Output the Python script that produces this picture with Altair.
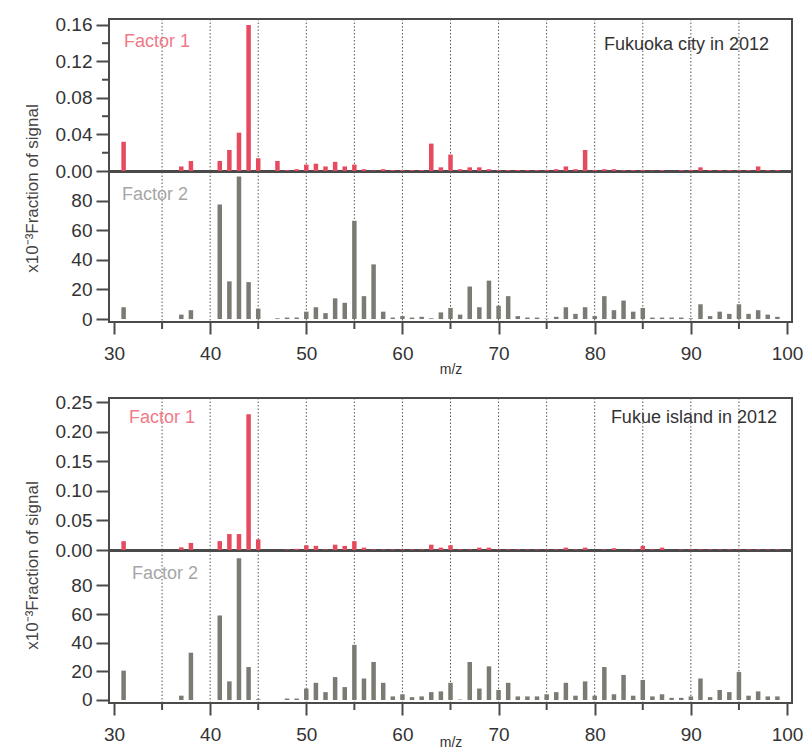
import altair as alt
import pandas as pd

# ---------------- data ----------------
MZ = list(range(31, 100))

fukuoka_f1 = [0.032, 0, 0, 0, 0, 0, 0.005, 0.011, 0, 0,
              0.011, 0.023, 0.042, 0.160, 0.014, 0, 0.011, 0.001, 0.002, 0.007,
              0.008, 0.005, 0.010, 0.005, 0.007, 0.002, 0.0005, 0.002, 0.001, 0.001,
              0.001, 0.001, 0.030, 0.004, 0.018, 0.002, 0.004, 0.004, 0.002, 0.001,
              0.001, 0.001, 0.001, 0.001, 0.001, 0.002, 0.005, 0.002, 0.023, 0.001,
              0.002, 0.002, 0.001, 0.001, 0.001, 0.0005, 0.001, 0, 0.001, 0.001,
              0.004, 0.001, 0.001, 0.001, 0.001, 0.001, 0.005, 0.001, 0.001]

fukuoka_f2 = [8, 0, 0, 0, 0, 0, 3, 6, 0, 0,
              77.5, 25.5, 96.5, 25, 7, 0, 0.5, 1, 1, 5,
              8, 4, 14, 11, 66.5, 15.5, 37, 5, 1, 2,
              1, 1.5, 0.5, 4.5, 7.5, 3, 22, 8, 26, 9,
              15.5, 2, 1, 1, 0.3, 1.5, 8, 3.5, 8, 2,
              15.5, 6, 12.5, 5, 7.5, 1, 1, 1, 1, 0.5,
              10, 2, 5, 3.5, 10, 3.5, 6, 3, 1.5]

fukue_f1 = [0.015, 0, 0, 0, 0, 0, 0.0045, 0.012, 0, 0,
            0.015, 0.027, 0.027, 0.230, 0.018, 0, 0, 0.001, 0.002, 0.008,
            0.007, 0.001, 0.009, 0.007, 0.015, 0.004, 0.001, 0.001, 0.001, 0.001,
            0.001, 0.001, 0.009, 0.004, 0.008, 0.001, 0.001, 0.004, 0.004, 0.001,
            0.001, 0.001, 0.001, 0.001, 0.001, 0.001, 0.004, 0.001, 0.004, 0,
            0.001, 0.003, 0, 0.001, 0.007, 0.001, 0.004, 0, 0.001, 0.001,
            0.001, 0.001, 0.001, 0.001, 0.001, 0.001, 0.001, 0.001, 0.001]

fukue_f2 = [20.5, 0, 0, 0, 0, 0, 3, 33, 0, 0,
            59, 13, 99, 23, 0.5, 0, 0, 1, 1, 8,
            12, 5.5, 16, 9, 38.5, 15, 26.5, 12, 2.5, 4,
            2, 2.5, 5.5, 6, 12, 0.3, 26.5, 8, 23.5, 7,
            12, 2.5, 2.5, 2.5, 4, 5.5, 12, 3, 13, 3,
            23, 4, 17.5, 3, 14, 2.5, 4, 1.5, 1.5, 2.5,
            15, 2, 7, 5.5, 19.5, 3, 6, 2.5, 2.5]

GRID_X = [35, 40, 45, 50, 55, 60, 65, 70, 75, 80, 85, 90, 95]
MAJOR_X = [30, 40, 50, 60, 70, 80, 90, 100]
MINOR_X = [35, 45, 55, 65, 75, 85, 95]
TOP_F1_TICKS = [0, 0.04, 0.08, 0.12, 0.16]
TOP_F1_MINOR = [0.02, 0.06, 0.10, 0.14]
BOT_F1_TICKS = [0, 0.05, 0.10, 0.15, 0.20, 0.25]
F2_TICKS = [0, 20, 40, 60, 80]

# ---------------- style ----------------
FONT = "Liberation Sans"
AX = "#4a4a4a"
LBL = "#333333"
RED = "#e64a5f"
GRAY = "#7a7c74"
W = 683
YTITLE = "x10\u207b\u00b3Fraction of signal"

xscale = alt.Scale(domain=[30, 100], nice=False, zero=False)


def xenc(show_axis, title_y=47):
    if show_axis:
        ax = alt.Axis(values=MAJOR_X, tickSize=12, tickWidth=2, tickColor=AX,
                      domain=False, grid=False, labelFont=FONT, labelFontSize=19,
                      labelColor=LBL, labelPadding=10, title="m/z", titleFont=FONT,
                      titleFontSize=14, titleFontWeight="normal", titleColor=LBL,
                      titleBaseline="middle", titleY=title_y)
        return alt.X("mz:Q", scale=xscale, axis=ax)
    return alt.X("mz:Q", scale=xscale, axis=None)


def panel(values, color, ydomain, yticks, yfmt, height, label, label_color,
          label_pos, site=None, site_pos=None, ytitle=None, title_y=None,
          minor_y=None, show_x=False, xtitle_y=47):
    df = pd.DataFrame({"mz": MZ, "v": values})
    common = dict(values=yticks, format=yfmt, tickSize=13, tickWidth=2,
                  tickColor=AX, domain=False, grid=False, labelFont=FONT,
                  labelFontSize=19, labelColor=LBL, labelPadding=4)
    if ytitle:
        yax = alt.Axis(title=ytitle, titleFont=FONT, titleFontSize=17,
                       titleFontWeight="normal", titleColor="#444444",
                       titleAngle=270, titleAlign="center", titleBaseline="middle",
                       titleX=-77, titleY=title_y, **common)
    else:
        yax = alt.Axis(title=None, **common)
    yenc = alt.Y("v:Q", scale=alt.Scale(domain=ydomain, nice=False, zero=False),
                 axis=yax)
    X = xenc(show_x, xtitle_y)

    grid = alt.Chart(pd.DataFrame({"mz": GRID_X})).mark_rule(
        color="#555555", strokeDash=[1.5, 2], strokeWidth=1
    ).encode(x=X)

    bars = alt.Chart(df).mark_bar(size=4.5, color=color).encode(x=X, y=yenc)

    txt = alt.Chart(pd.DataFrame({"t": [label]})).mark_text(
        align="left", baseline="middle", font=FONT, fontSize=18, color=label_color
    ).encode(text="t:N", x=alt.value(label_pos[0]), y=alt.value(label_pos[1]))

    layers = [grid, bars, txt]
    if site:
        stxt = alt.Chart(pd.DataFrame({"t": [site]})).mark_text(
            align="right", baseline="middle", font=FONT, fontSize=18, color="#333333"
        ).encode(text="t:N", x=alt.value(site_pos[0]), y=alt.value(site_pos[1]))
        layers.append(stxt)
    if minor_y:
        my = alt.Chart(pd.DataFrame({"v": minor_y})).mark_rule(
            color=AX, strokeWidth=2
        ).encode(y=yenc, x=alt.value(-7), x2=alt.value(0))
        layers.append(my)
    if show_x:
        mx = alt.Chart(pd.DataFrame({"mz": MINOR_X})).mark_rule(
            color=AX, strokeWidth=2
        ).encode(x=X, y=alt.value(height), y2=alt.value(height + 7))
        layers.append(mx)
    return alt.layer(*layers).properties(width=W, height=height)


top_f1 = panel(fukuoka_f1, RED, [0, 0.1665], TOP_F1_TICKS, ".2f", 152,
               "Factor 1", "#f07a88", (15, 23), site="Fukuoka city in 2012",
               site_pos=(660, 26), ytitle=YTITLE, title_y=169, minor_y=TOP_F1_MINOR)
top_f2 = panel(fukuoka_f2, GRAY, [-2, 99.5], F2_TICKS, "d", 150,
               "Factor 2", "#a6a6a6", (13, 23), show_x=True, xtitle_y=47)

bot_f1 = panel(fukue_f1, RED, [0, 0.2573], BOT_F1_TICKS, ".2f", 152,
               "Factor 1", "#f07a88", (20, 20), site="Fukue island in 2012",
               site_pos=(668, 20), ytitle=YTITLE, title_y=167)
bot_f2 = panel(fukue_f2, GRAY, [-2.1, 104], F2_TICKS, "d", 152,
               "Factor 2", "#a6a6a6", (23, 23), show_x=True, xtitle_y=39)

# empty gap between the two site blocks (room for the m/z axis of the top block)
spacer = alt.Chart(pd.DataFrame({"a": [0]})).mark_point(opacity=0).encode(
    x=alt.value(0), y=alt.value(0)
).properties(width=W, height=74, view=alt.ViewBackground(strokeOpacity=0))

chart = alt.vconcat(top_f1, top_f2, spacer, bot_f1, bot_f2,
                    spacing=1, bounds="flush").properties(
    padding={"left": 22, "top": 14, "right": 5, "bottom": 0},
    background="white",
).configure_view(stroke=AX, strokeWidth=2)

chart.save("out.html", embed_options={"renderer": "svg", "actions": False})
